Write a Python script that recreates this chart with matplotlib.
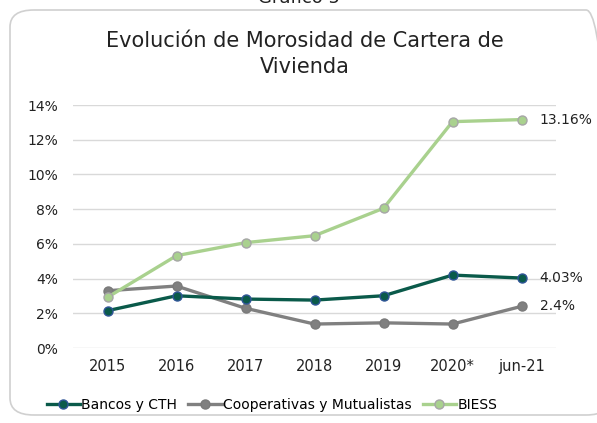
import matplotlib
matplotlib.use("Agg")
import matplotlib.pyplot as plt
from matplotlib.patches import FancyBboxPatch

categories = ["2015", "2016", "2017", "2018", "2019", "2020*", "jun-21"]
bancos = [2.15, 3.01, 2.82, 2.76, 3.01, 4.20, 4.03]
coops = [3.30, 3.57, 2.29, 1.38, 1.45, 1.38, 2.40]
biess = [2.92, 5.32, 6.07, 6.47, 8.05, 13.04, 13.16]
end_labels = ["4.03%", "2.4%", "13.16%"]
yticks = [0, 2, 4, 6, 8, 10, 12, 14]

plt.rcParams['font.family'] = ['DejaVu Sans']
fig = plt.figure(figsize=(5.97, 4.23), dpi=100)

# border
border = FancyBboxPatch((10/597, 8/423), 600/597, 405/423,
                        boxstyle="round,pad=0,rounding_size=0.04",
                        transform=fig.transFigure, fill=False,
                        edgecolor="#D0D0D0", linewidth=1.2)
fig.patches.append(border)
fig.text(0.5, 1.0 + 0.005, "Gráfico 5", ha="center", va="center", fontsize=13, color="#222222")

ax = fig.add_axes([73/597, 1 - 348/423, (556 - 73)/597, (348 - 105)/423])
x = list(range(len(categories)))

ax.plot(x, bancos, color="#0A5A4A", lw=2.4, marker="o", ms=6.5,
        markerfacecolor="#0A5A4A", markeredgecolor="#2F5597", markeredgewidth=1,
        label="Bancos y CTH", zorder=4)
ax.plot(x, coops, color="#808080", lw=2.4, marker="o", ms=6.5,
        markerfacecolor="#808080", markeredgecolor="#7A7A7A",
        label="Cooperativas y Mutualistas", zorder=3)
ax.plot(x, biess, color="#A9D18E", lw=2.4, marker="o", ms=6.5,
        markerfacecolor="#A9D18E", markeredgecolor="#A6A6A6", markeredgewidth=1,
        label="BIESS", zorder=5)

series = [bancos, coops, biess]
for s, lab in zip(series, end_labels):
    ax.annotate(lab, (x[-1], s[-1]), xytext=(13, 0), textcoords="offset points",
                ha="left", va="center", fontsize=10, color="#222222")

ax.set_xlim(-0.5, len(categories) - 0.5)
ax.set_ylim(0, 14)
ax.set_yticks(yticks)
ax.set_yticklabels([f"{v}%" for v in yticks], fontsize=10, color="#222222")
ax.set_xticks(x)
ax.set_xticklabels(categories, fontsize=10.5, color="#222222")
ax.tick_params(length=0, pad=8)
ax.tick_params(axis="y", pad=11)
ax.grid(axis="y", color="#D9D9D9", lw=1)
ax.set_axisbelow(True)
for sp in ax.spines.values():
    sp.set_visible(False)

fig.text(305/597, 1 - 54/423, "Evolución de Morosidad de Cartera de\nVivienda",
         ha="center", va="center", fontsize=15, color="#222222", linespacing=1.35)

leg = fig.legend(loc="center", bbox_to_anchor=(272/597, 1 - 405/423), ncol=3,
                 frameon=False, fontsize=10, handlelength=2.4, handletextpad=0.1,
                 columnspacing=0.8)
fig.savefig("out.png", dpi=100)
